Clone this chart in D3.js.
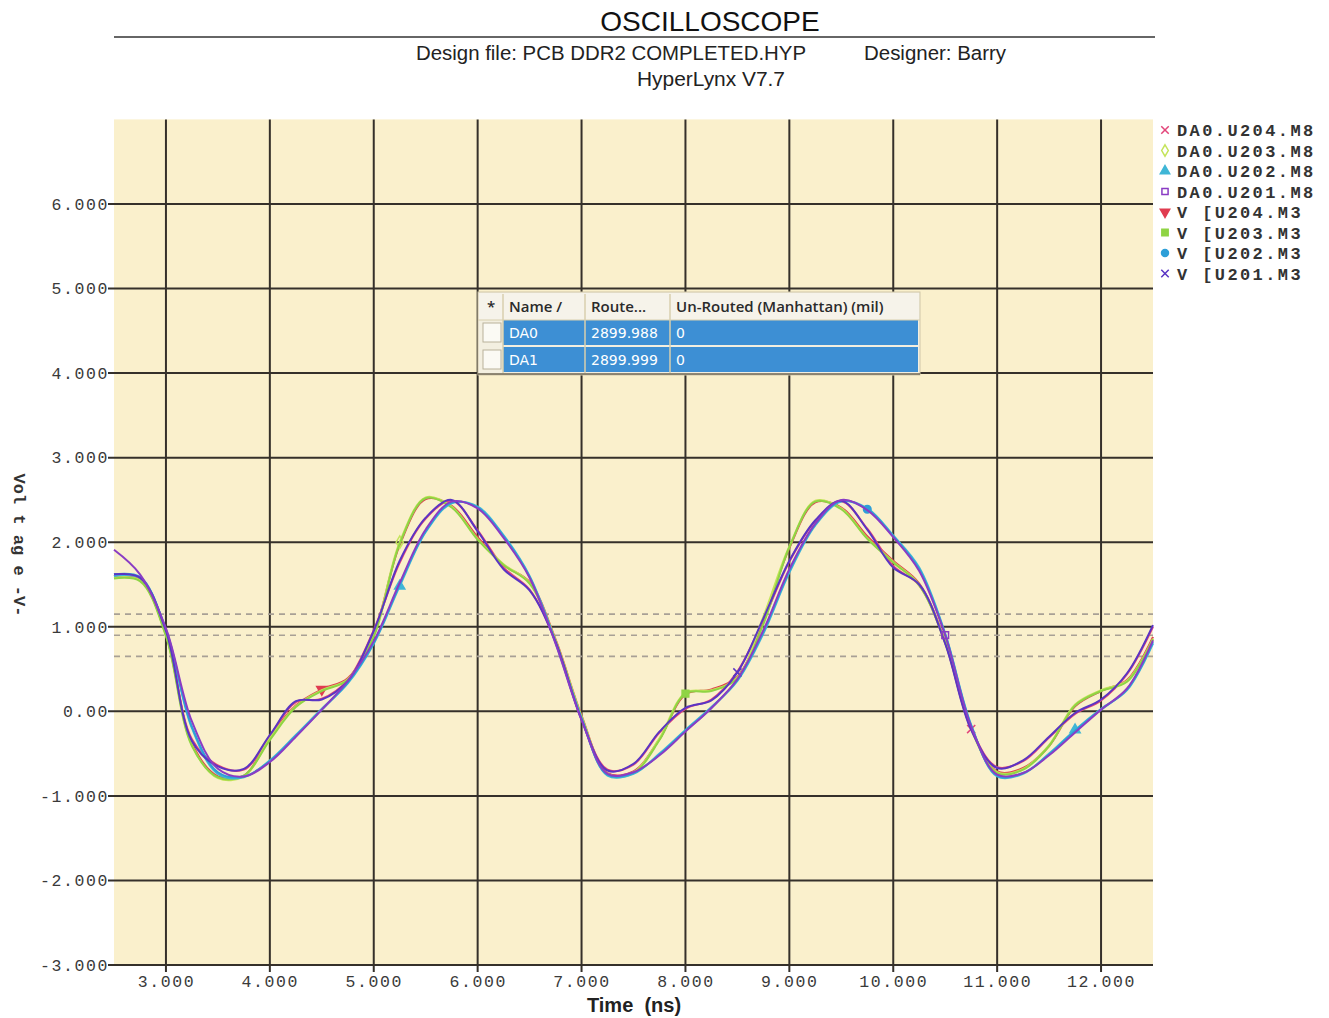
<!DOCTYPE html>
<html>
<head>
<meta charset="utf-8">
<script src="https://cdn.jsdelivr.net/npm/d3@7"></script>
<style>
  body { margin: 0; background: #fff; }
  svg { display: block; }
</style>
</head>
<body>
<svg id="chart" width="1329" height="1018"></svg>
<script>
// ---- data ----
var timeNs = [2.5, 2.75, 3.0, 3.25, 3.5, 3.75, 4.0, 4.25, 4.5, 4.75, 5.0, 5.25, 5.5, 5.75, 6.0, 6.25, 6.5, 6.75, 7.0, 7.25,
  7.5, 7.75, 8.0, 8.25, 8.5, 8.75, 9.0, 9.25, 9.5, 9.75, 10.0, 10.25, 10.5, 10.75, 11.0, 11.25, 11.5, 11.75, 12.0, 12.25, 12.5];

var da0U204 = [1.60,1.58,0.94,-0.33,-0.64,-0.69,-0.29,0.11,0.15,0.37,0.96,1.76,2.28,2.49,2.14,1.70,1.44,0.83,-0.09,-0.69,
  -0.63,-0.25,0.03,0.14,0.47,1.08,1.77,2.25,2.48,2.16,1.72,1.49,0.81,-0.21,-0.66,-0.59,-0.31,-0.03,0.13,0.44,1.00];
var da0U203 = [1.58,1.55,0.90,-0.40,-0.79,-0.77,-0.32,0.06,0.25,0.38,0.90,2.00,2.53,2.42,2.04,1.74,1.52,0.84,-0.06,-0.74,
  -0.72,-0.32,0.22,0.25,0.40,1.12,1.95,2.49,2.40,2.05,1.77,1.50,0.82,-0.20,-0.72,-0.68,-0.40,0.08,0.25,0.36,0.86];
var da0U202 = [1.60,1.58,0.96,-0.20,-0.74,-0.78,-0.58,-0.28,0.03,0.33,0.80,1.48,2.12,2.46,2.42,2.08,1.60,0.82,-0.08,-0.76,
  -0.74,-0.50,-0.22,0.05,0.36,0.92,1.64,2.20,2.48,2.40,2.08,1.70,0.92,-0.16,-0.77,-0.74,-0.50,-0.22,0.03,0.25,0.80];
var da0U201 = [1.91,1.62,0.98,-0.12,-0.68,-0.77,-0.60,-0.30,0.02,0.36,0.83,1.52,2.15,2.48,2.40,2.05,1.58,0.80,-0.10,-0.74,
  -0.72,-0.52,-0.24,0.04,0.38,0.96,1.68,2.22,2.50,2.38,2.06,1.66,0.90,-0.18,-0.75,-0.73,-0.52,-0.25,0.02,0.27,0.84];
var vU204 = [1.60,1.56,0.91,-0.38,-0.77,-0.76,-0.30,0.07,0.26,0.39,0.92,1.97,2.51,2.43,2.06,1.73,1.53,0.85,-0.05,-0.73,
  -0.71,-0.33,0.20,0.26,0.41,1.08,1.93,2.47,2.41,2.07,1.78,1.51,0.83,-0.19,-0.71,-0.67,-0.41,0.06,0.24,0.37,0.88];
var vU203 = [1.57,1.54,0.89,-0.41,-0.78,-0.76,-0.34,0.05,0.24,0.37,0.88,1.98,2.52,2.41,2.03,1.73,1.51,0.83,-0.07,-0.75,
  -0.73,-0.34,0.21,0.24,0.39,1.03,1.94,2.48,2.39,2.04,1.76,1.49,0.81,-0.21,-0.73,-0.69,-0.41,0.07,0.24,0.35,0.85];
var vU202 = [1.62,1.59,0.97,-0.18,-0.72,-0.77,-0.59,-0.29,0.02,0.34,0.81,1.50,2.13,2.47,2.41,2.07,1.59,0.81,-0.09,-0.75,
  -0.73,-0.51,-0.23,0.04,0.37,0.94,1.66,2.21,2.49,2.39,2.07,1.68,0.91,-0.17,-0.76,-0.73,-0.51,-0.23,0.02,0.26,0.82];
var vU201 = [1.62,1.58,0.95,-0.35,-0.65,-0.68,-0.28,0.12,0.14,0.36,0.95,1.78,2.29,2.50,2.13,1.68,1.43,0.82,-0.10,-0.70,
  -0.62,-0.24,0.04,0.13,0.46,1.10,1.78,2.26,2.49,2.15,1.70,1.50,0.80,-0.22,-0.67,-0.58,-0.30,-0.02,0.14,0.45,1.02];

var legendNames = ["DA0.U204.M8", "DA0.U203.M8", "DA0.U202.M8", "DA0.U201.M8",
  "V [U204.M3", "V [U203.M3", "V [U202.M3", "V [U201.M3"];
var seriesValues = [da0U204, da0U203, da0U202, da0U201, vU204, vU203, vU202, vU201];
var markerIdx = [[33], [11], [11, 37], [32], [8], [22], [29], [24]];

var xTicks = [3, 4, 5, 6, 7, 8, 9, 10, 11, 12];
var xTickLabels = ["3.000", "4.000", "5.000", "6.000", "7.000", "8.000", "9.000", "10.000", "11.000", "12.000"];
var yTicks = [-3, -2, -1, 0, 1, 2, 3, 4, 5, 6];
var yTickLabels = ["-3.000", "-2.000", "-1.000", "0.00", "1.000", "2.000", "3.000", "4.000", "5.000", "6.000"];
var refLevels = [1.15, 0.9, 0.65];

var tableHeader = ["*", "Name /", "Route...", "Un-Routed (Manhattan) (mil)"];
var tableRows = [["DA0", "2899.988", "0"], ["DA1", "2899.999", "0"]];

// ---- styling ----
var colors = ["#e2457a", "#c4e45a", "#3fb6d6", "#8a3cc4", "#e03c50", "#8fd444", "#2e9fd8", "#5a35c4"];
var symbols = [d3.symbolX, d3.symbolDiamond, d3.symbolTriangle, d3.symbolSquare,
  d3.symbolTriangle, d3.symbolSquare, d3.symbolCircle, d3.symbolX];
var filled = [false, false, true, false, true, true, true, false];
var drawOrder = [4, 0, 1, 5, 2, 6, 7, 3];

var svg = d3.select("#chart");
var monoFont = "'Liberation Mono', 'DejaVu Sans Mono', monospace";
var sansFont = "'Liberation Sans', Arial, sans-serif";

var x = d3.scaleLinear().domain([2.5, 12.5]).range([114, 1153]);
var y = d3.scaleLinear().domain([-3, 7]).range([965, 119.4]);

// header
svg.append("text").attr("x", 710).attr("y", 31).attr("text-anchor", "middle")
  .style("font-family", sansFont).style("font-size", "28px").attr("fill", "#111").text("OSCILLOSCOPE");
svg.append("line").attr("x1", 114).attr("x2", 1155).attr("y1", 37).attr("y2", 37)
  .attr("stroke", "#333").attr("stroke-width", 1.5);
svg.append("text").attr("x", 416).attr("y", 60).attr("textLength", 390).attr("lengthAdjust", "spacingAndGlyphs")
  .style("font-family", sansFont).style("font-size", "20px").attr("fill", "#222")
  .text("Design file: PCB DDR2 COMPLETED.HYP");
svg.append("text").attr("x", 864).attr("y", 60).attr("textLength", 142).attr("lengthAdjust", "spacingAndGlyphs")
  .style("font-family", sansFont).style("font-size", "20px").attr("fill", "#222")
  .text("Designer: Barry");
svg.append("text").attr("x", 637).attr("y", 86).attr("textLength", 148).attr("lengthAdjust", "spacingAndGlyphs")
  .style("font-family", sansFont).style("font-size", "20px").attr("fill", "#222")
  .text("HyperLynx V7.7");

// plot background
svg.append("rect").attr("x", x(2.5)).attr("y", y(7))
  .attr("width", x(12.5) - x(2.5)).attr("height", y(-3) - y(7)).attr("fill", "#faf0cc");

// grid
var grid = svg.append("g");
grid.selectAll("line.v").data(xTicks).enter().append("line")
  .attr("x1", d => x(d)).attr("x2", d => x(d)).attr("y1", y(7)).attr("y2", y(-3) + 7)
  .attr("stroke", "#35302a").attr("stroke-width", 2);
grid.selectAll("line.h").data(yTicks).enter().append("line")
  .attr("x1", x(2.5) - 6).attr("x2", x(12.5)).attr("y1", d => y(d)).attr("y2", d => y(d))
  .attr("stroke", "#35302a").attr("stroke-width", 2);
grid.selectAll("line.ref").data(refLevels).enter().append("line")
  .attr("x1", x(2.5)).attr("x2", x(12.5)).attr("y1", d => y(d)).attr("y2", d => y(d))
  .attr("stroke", "#a8a095").attr("stroke-width", 1.6).attr("stroke-dasharray", "6,5");

// axes
var xAxis = svg.append("g").attr("transform", "translate(0," + y(-3) + ")")
  .call(d3.axisBottom(x).tickValues(xTicks).tickSize(0).tickPadding(10)
    .tickFormat((d, i) => xTickLabels[i]));
var yAxis = svg.append("g").attr("transform", "translate(" + (x(2.5) - 3) + ",0)")
  .call(d3.axisLeft(y).tickValues(yTicks).tickSize(0).tickPadding(2)
    .tickFormat((d, i) => yTickLabels[i]));
[xAxis, yAxis].forEach(function (a) {
  a.select(".domain").remove();
  a.selectAll("text").style("font-family", monoFont).style("font-size", "16.5px")
    .style("letter-spacing", "1.6px").attr("fill", "#3a3a3a");
});

svg.append("text").attr("x", 634).attr("y", 1012).attr("text-anchor", "middle")
  .style("font-family", sansFont).style("font-size", "20px").style("font-weight", "bold")
  .style("white-space", "pre").attr("fill", "#222").text("Time  (ns)");
svg.append("text").attr("transform", "translate(14,545) rotate(90)").attr("text-anchor", "middle")
  .style("font-family", monoFont).style("font-size", "17px").style("font-weight", "bold")
  .style("white-space", "pre").attr("fill", "#333").text("Vol t ag e -V-");

// waveforms
var line = d3.line().x((d, i) => x(timeNs[i])).y(d => y(d)).curve(d3.curveCatmullRom.alpha(0.5));
var traces = svg.append("g");
drawOrder.forEach(function (k) {
  traces.append("path").attr("d", line(seriesValues[k])).attr("fill", "none")
    .attr("stroke", colors[k]).attr("stroke-width", 2).attr("stroke-linejoin", "round");
  traces.selectAll(null).data(markerIdx[k]).enter().append("path")
    .attr("transform", i => "translate(" + x(timeNs[i]) + "," + y(seriesValues[k][i]) + ")" + (k === 4 ? " rotate(180)" : ""))
    .attr("d", d3.symbol().type(symbols[k]).size(45))
    .attr("fill", filled[k] ? colors[k] : "none").attr("stroke", colors[k]).attr("stroke-width", 1.5);
});

// legend
var legend = svg.append("g");
legendNames.forEach(function (name, k) {
  var ly = 130 + k * 20.5;
  legend.append("path").attr("transform", "translate(1165," + ly + ")" + (k === 4 ? " rotate(180)" : ""))
    .attr("d", d3.symbol().type(symbols[k]).size(k === 5 ? 40 : 38))
    .attr("fill", filled[k] ? colors[k] : "none").attr("stroke", colors[k]).attr("stroke-width", 1.5);
  legend.append("text").attr("x", 1177).attr("y", ly + 6)
    .style("font-family", monoFont).style("font-size", "17px").style("font-weight", "bold")
    .style("letter-spacing", "2.4px").style("white-space", "pre").attr("fill", "#333").text(name);
});

// net table overlay
var colX = [0, 25, 107, 192];
var tbl = svg.append("g").attr("transform", "translate(478,292)");
tbl.append("rect").attr("width", 442).attr("height", 83).attr("fill", "#f3efe0").attr("stroke", "#cfc6a8");
tbl.append("rect").attr("x", 1).attr("y", 1).attr("width", 440).attr("height", 27).attr("fill", "#f6f3ea");
tableRows.forEach(function (r, i) {
  var ry = 28 + i * 27;
  tbl.append("rect").attr("x", colX[1]).attr("y", ry).attr("width", 440 - colX[1]).attr("height", 25).attr("fill", "#3d8fd4");
  tbl.append("rect").attr("x", 5).attr("y", ry + 3).attr("width", 18).attr("height", 19)
    .attr("fill", "#fbfaf4").attr("stroke", "#b9b29a");
  r.forEach(function (v, j) {
    tbl.append("text").attr("x", colX[j + 1] + 6).attr("y", ry + 18)
      .style("font-family", "'DejaVu Sans', sans-serif").style("font-size", "14px").attr("fill", "#fff").text(v);
  });
});
tableHeader.forEach(function (h, j) {
  tbl.append("text").attr("x", colX[j] + (j === 0 ? 9 : 6)).attr("y", 20)
    .style("font-family", "'Open Sans', sans-serif").style("font-size", "15px").style("font-weight", "600")
    .attr("fill", "#2a2a2a").text(h);
});
colX.slice(1).forEach(function (cx) {
  tbl.append("line").attr("x1", cx).attr("x2", cx).attr("y1", 2).attr("y2", 81).attr("stroke", "#d8cfae").attr("stroke-width", 1.5);
});
tbl.append("line").attr("x1", 0).attr("x2", 442).attr("y1", 28).attr("y2", 28).attr("stroke", "#d8cfae");
tbl.append("line").attr("x1", 0).attr("x2", 442).attr("y1", 82).attr("y2", 82).attr("stroke", "#6d6552").attr("stroke-width", 1.5);
</script>
</body>
</html>
